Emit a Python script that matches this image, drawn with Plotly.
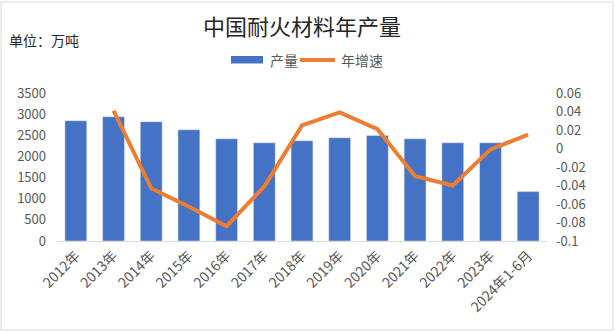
import plotly.graph_objects as go

categories = ["2012年", "2013年", "2014年", "2015年", "2016年", "2017年", "2018年",
              "2019年", "2020年", "2021年", "2022年", "2023年", "2024年1-6月"]
output = [2843, 2938, 2820, 2630, 2417, 2322, 2370, 2441, 2495, 2417, 2322, 2322, 1168]
growth = [None, 0.041, -0.043, -0.063, -0.084, -0.041, 0.025, 0.039, 0.021, -0.030, -0.040, -0.001, 0.015]
left_ticks = [0, 500, 1000, 1500, 2000, 2500, 3000, 3500]
right_ticks = [-0.1, -0.08, -0.06, -0.04, -0.02, 0, 0.02, 0.04, 0.06]
right_labels = ["-0.1", "-0.08", "-0.06", "-0.04", "-0.02", "0", "0.02", "0.04", "0.06"]

font = "Noto Sans CJK SC"
gray = "#595959"
bar_color = "#4472C4"
line_color = "#ED7D31"

fig = go.Figure()
fig.add_trace(go.Bar(x=categories, y=output, name="产量", marker_color=bar_color,
                     width=0.58, yaxis="y"))
fig.add_trace(go.Scatter(x=categories, y=growth, name="年增速", mode="lines",
                         line=dict(color=line_color, width=4), yaxis="y2",
                         connectgaps=False))

L, R, T, B = 57, 68, 93, 91
PW, PH = 615 - L - R, 332 - T - B


def px(x):
    return (x - L) / PW


def py(y):
    return (332 - B - y) / PH


fig.update_layout(
    width=615, height=332,
    margin=dict(l=L, r=R, t=T, b=B),
    paper_bgcolor="white", plot_bgcolor="white",
    font=dict(family=font, color=gray, size=13),
    title=dict(text="中国耐火材料年产量", x=0.5, xref="paper", y=0.918, yref="container",
               xanchor="center", yanchor="middle",
               font=dict(size=22, color="#262626", family=font)),
    showlegend=False,
    xaxis=dict(type="category", showline=True, linecolor="#d9d9d9", linewidth=1,
               ticks="", tickangle=-45, tickfont=dict(size=14, color=gray),
               showgrid=False),
    yaxis=dict(range=[0, 3500], tickvals=left_ticks, showgrid=False, zeroline=False,
               tickfont=dict(size=13, color=gray), ticks="", ticklabelstandoff=10),
    yaxis2=dict(range=[-0.1, 0.06], tickvals=right_ticks, ticktext=right_labels,
                overlaying="y", side="right", showgrid=False, zeroline=False,
                tickfont=dict(size=13, color=gray), ticks="", ticklabelstandoff=8),
)

# manual legend
fig.add_shape(type="rect", xref="paper", yref="paper", x0=px(231), x1=px(263),
              y0=py(63.5), y1=py(56), line=dict(width=0), fillcolor=bar_color)
fig.add_annotation(text="产量", xref="paper", yref="paper", x=px(268), y=py(60),
                   xanchor="left", yanchor="middle", showarrow=False,
                   font=dict(size=14, color=gray, family=font))
fig.add_shape(type="line", xref="paper", yref="paper", x0=px(300), x1=px(335),
              y0=py(60), y1=py(60), line=dict(color=line_color, width=4))
fig.add_annotation(text="年增速", xref="paper", yref="paper", x=px(339), y=py(60),
                   xanchor="left", yanchor="middle", showarrow=False,
                   font=dict(size=14, color=gray, family=font))

fig.add_annotation(text="单位：万吨", xref="paper", yref="paper", x=px(7), y=py(40),
                   xanchor="left", yanchor="middle", showarrow=False,
                   font=dict(size=14, color="#262626", family=font))

# outer chart border
fig.add_shape(type="rect", xref="paper", yref="paper",
              x0=px(1), x1=px(613), y0=py(330), y1=py(2),
              line=dict(color="#d9d9d9", width=1), fillcolor="rgba(0,0,0,0)", layer="below")

fig.write_html("out.html")
